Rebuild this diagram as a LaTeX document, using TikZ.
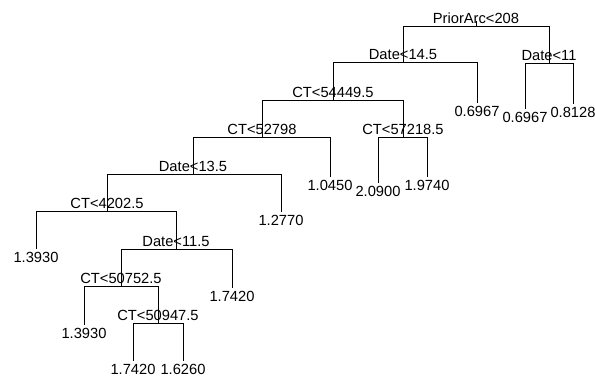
\documentclass[tikz,border=0pt]{standalone}
\usepackage{fontspec}
\setmainfont{Liberation Sans}
\tikzset{
	split/.style={anchor=base, yshift=3.5pt, inner sep=0pt},
	leaf/.style={anchor=north, inner sep=2.5pt}
}
\begin{document}
\begin{tikzpicture}[x=1pt, y=-1pt, line width=1pt, font=\fontsize{14.7}{17}\selectfont]
	  \useasboundingbox (0,0) rectangle (595,379);

	  \coordinate (root) at (476,27);
	  \coordinate (d145) at (403,63);
	  \coordinate (d11) at (549,64);
	  \coordinate (ct544) at (333,101);
	  \coordinate (ct572) at (403,138);
	  \coordinate (ct527) at (262,138);
	  \coordinate (d135) at (193,175);
	  \coordinate (ct42) at (107,212);
	  \coordinate (d115) at (176,250);
	  \coordinate (ct507) at (121,287);
	  \coordinate (ct509) at (158,324);

	  \node[split] at (root) {PriorArc<208};
	  \node[split] at (d145) {Date<14.5};
	  \node[split] at (d11) {Date<11};
	  \node[split] at (ct544) {CT<54449.5};
	  \node[split] at (ct572) {CT<57218.5};
	  \node[split] at (ct527) {CT<52798};
	  \node[split] at (d135) {Date<13.5};
	  \node[split] at (ct42) {CT<4202.5};
	  \node[split] at (d115) {Date<11.5};
	  \node[split] at (ct507) {CT<50752.5};
	  \node[split] at (ct509) {CT<50947.5};

	  \node[leaf] (l1) at (477,103) {0.6967};
	  \node[leaf] (l2) at (525,109) {0.6967};
	  \node[leaf] (l3) at (573,104) {0.8128};
	  \node[leaf] (l4) at (330,177) {1.0450};
	  \node[leaf] (l5) at (378,183) {2.0900};
	  \node[leaf] (l6) at (427,177) {1.9740};
	  \node[leaf] (l7) at (281,212) {1.2770};
	  \node[leaf] (l8) at (36,249) {1.3930};
	  \node[leaf] (l9) at (232,288) {1.7420};
	  \node[leaf] (l10) at (84,325) {1.3930};
	  \node[leaf] (l11) at (133,361) {1.7420};
	  \node[leaf] (l12) at (183,361) {1.6260};

	  \draw (root) -- ++(0,-6);
	  \draw (root) -| (d145);
	  \draw (root) -| (d11);
	  \draw (d11) -| (l2.north);
	  \draw (d11) -| (l3.north);
	  \draw (d145) -| (ct544);
	  \draw (d145) -| (l1.north);
	  \draw (ct544) -| (ct527);
	  \draw (ct544) -| (ct572);
	  \draw (ct572) -| (l5.north);
	  \draw (ct572) -| (l6.north);
	  \draw (ct527) -| (d135);
	  \draw (ct527) -| (l4.north);
	  \draw (d135) -| (ct42);
	  \draw (d135) -| (l7.north);
	  \draw (ct42) -| (l8.north);
	  \draw (ct42) -| (d115);
	  \draw (d115) -| (ct507);
	  \draw (d115) -| (l9.north);
	  \draw (ct507) -| (l10.north);
	  \draw (ct507) -| (ct509);
	  \draw (ct509) -| (l11.north);
	  \draw (ct509) -| (l12.north);

	\end{tikzpicture}
\end{document}
